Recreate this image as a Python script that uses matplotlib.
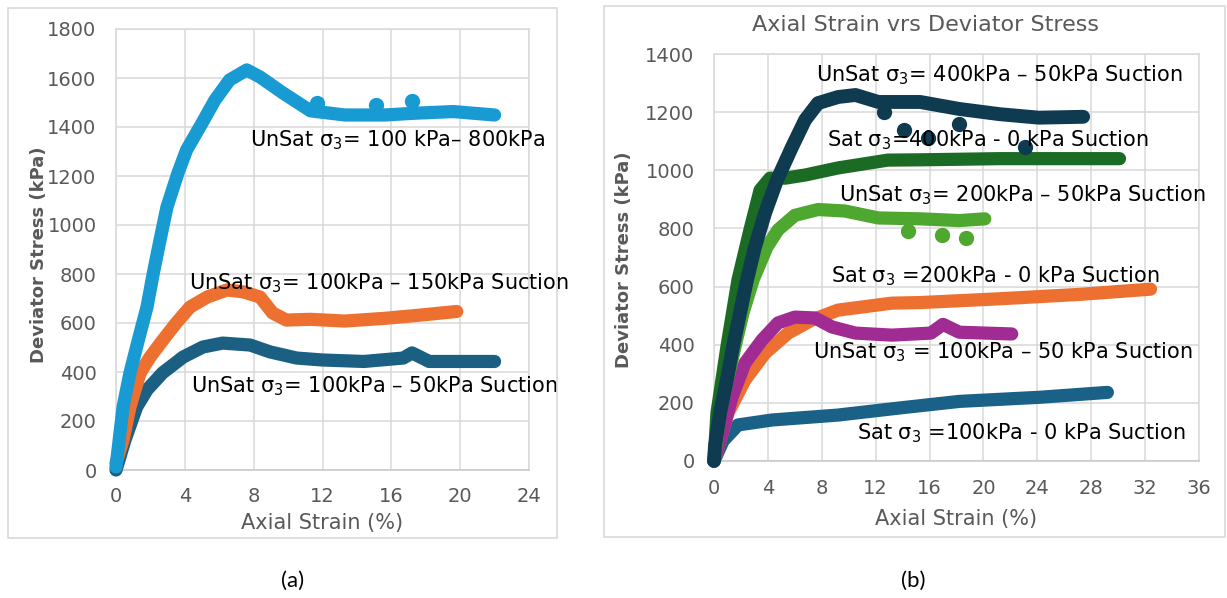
import matplotlib
matplotlib.use("Agg")
import matplotlib.pyplot as plt
from matplotlib.patches import Rectangle

plt.rcParams['font.family'] = ['DejaVu Sans']

# ---- panel (a) data ----
a_blue_x = [0, 0.41, 0.81, 1.3, 1.8, 2.17, 2.56, 2.96, 3.6, 4.1, 5.0, 5.75, 6.6, 7.6, 8.37, 9.7, 11.3, 13.3, 15.6, 17.3, 19.6, 22.0]
a_blue_y = [12, 257, 396, 531, 665, 804, 939, 1073, 1212, 1306, 1416, 1510, 1592, 1633, 1604, 1539, 1466, 1449, 1449, 1456, 1463, 1449]
a_orange_x = [0, 0.41, 0.81, 1.4, 1.98, 2.73, 3.5, 4.3, 5.3, 6.45, 7.4, 8.37, 9.1, 9.9, 11.3, 13.3, 15.6, 17.8, 19.8]
a_orange_y = [30, 122, 257, 396, 461, 531, 600, 665, 706, 735, 727, 706, 641, 612, 615, 608, 619, 633, 647]
a_teal_x = [0, 0.52, 1.2, 1.8, 2.7, 3.9, 5.05, 6.2, 7.8, 8.95, 10.5, 12.0, 14.4, 16.7, 17.2, 18.2, 22.0]
a_teal_y = [0, 122, 257, 327, 396, 461, 502, 518, 510, 482, 457, 449, 443, 457, 478, 443, 443]
a_blue_out_x = [17.2, 15.1, 11.7]
a_blue_out_y = [1505, 1490, 1500]

# ---- panel (b) data ----
b_navy_x = [0, 0.07, 0.45, 0.96, 1.41, 1.93, 2.45, 3.04, 3.79, 4.68, 5.79, 6.76, 7.72, 9.2, 10.5, 12.2, 15.3, 18.2, 21.2, 24.1, 27.4]
b_navy_y = [0, 49, 165, 279, 393, 509, 623, 736, 853, 967, 1080, 1173, 1231, 1252, 1259, 1235, 1235, 1211, 1193, 1181, 1184]
b_navy_out_x = [14.1, 15.9, 23.1, 18.2, 12.6]
b_navy_out_y = [1140, 1110, 1081, 1160, 1200]
b_dgreen_x = [0, 0.22, 0.96, 1.78, 2.67, 3.42, 4.16, 5.3, 6.8, 9.2, 12.9, 15.3, 21.2, 27.1, 30.1]
b_dgreen_y = [0, 165, 393, 623, 795, 932, 973, 973, 984, 1008, 1035, 1036, 1040, 1040, 1040]
b_lgreen_x = [0, 0.45, 1.56, 2.15, 2.9, 3.93, 4.75, 6.0, 7.72, 9.7, 12.2, 15.3, 18.2, 20.1]
b_lgreen_y = [0, 165, 393, 509, 623, 736, 795, 845, 865, 860, 836, 833, 827, 833]
b_lgreen_out_x = [14.4, 16.9, 18.7]
b_lgreen_out_y = [791, 777, 768]
b_orange_x = [0, 1.04, 2.3, 3.79, 5.5, 7.27, 9.2, 13.2, 15.3, 21.2, 27.1, 32.4]
b_orange_y = [0, 165, 279, 371, 440, 485, 519, 543, 545, 558, 573, 591]
b_mag_x = [0, 0.67, 1.34, 2.3, 3.56, 4.75, 6.0, 7.5, 8.76, 10.5, 13.2, 16.1, 17.0, 18.2, 22.1]
b_mag_y = [0, 107, 220, 337, 416, 475, 495, 492, 461, 440, 433, 440, 470, 443, 437]
b_teal_x = [0, 0.67, 1.78, 4.3, 9.2, 13.7, 18.2, 24.1, 29.2]
b_teal_y = [0, 69, 124, 141, 158, 182, 205, 219, 236]

a_xticks = [0, 4, 8, 12, 16, 20, 24]
a_yticks = [0, 200, 400, 600, 800, 1000, 1200, 1400, 1600, 1800]
b_xticks = [0, 4, 8, 12, 16, 20, 24, 28, 32, 36]
b_yticks = [0, 200, 400, 600, 800, 1000, 1200, 1400]

W, H = 1227, 598
GRID = '#d9d9d9'
TICK = '#595959'

fig = plt.figure(figsize=(W / 100, H / 100), dpi=100)


def px_axes(x0, y0, x1, y1):
    # pixel box (top-left origin) -> figure axes
    return fig.add_axes([x0 / W, 1 - y1 / H, (x1 - x0) / W, (y1 - y0) / H])


def frame(x0, y0, x1, y1):
    fig.add_artist(Rectangle((x0 / W, 1 - y1 / H), (x1 - x0) / W, (y1 - y0) / H,
                             transform=fig.transFigure, fill=False, ec=GRID, lw=1.2))


def style(ax, xt, yt, xpad, ypad):
    ax.set_xlim(xt[0], xt[-1])
    ax.set_ylim(yt[0], yt[-1])
    ax.set_xticks(xt)
    ax.set_yticks(yt)
    ax.grid(True, color=GRID, lw=1.1)
    ax.set_axisbelow(True)
    for s in ax.spines.values():
        s.set_color(GRID)
        s.set_linewidth(1.1)
    ax.spines['bottom'].set_color('#c8c8c8')
    ax.tick_params(length=0, labelsize=14, labelcolor=TICK)
    ax.tick_params(axis='x', pad=xpad)
    ax.tick_params(axis='y', pad=ypad)


def band(ax, x, y, c, lw=9.5):
    ax.plot(x, y, color=c, lw=lw, solid_capstyle='round', solid_joinstyle='round',
            clip_on=False, zorder=3)


def dots(ax, x, y, c):
    ax.plot(x, y, 'o', ms=10, color=c, ls='none', clip_on=False, zorder=3)


frame(8, 8, 557, 538)
frame(604, 6, 1225, 537)

# ---- (a) ----
ax1 = px_axes(116, 29, 529, 470)
style(ax1, a_xticks, a_yticks, 12, 14)
band(ax1, a_teal_x, a_teal_y, '#1b5f82')
band(ax1, a_orange_x, a_orange_y, '#ed7030')
band(ax1, a_blue_x, a_blue_y, '#189ad3')
dots(ax1, a_blue_out_x, a_blue_out_y, '#189ad3')

ax1.text(7.8, 1347, 'UnSat σ$_3$= 100 kPa– 800kPa', fontsize=15, va='center', clip_on=False, zorder=4)
ax1.text(4.24, 763, 'UnSat σ$_3$= 100kPa – 150kPa Suction', fontsize=15, va='center', clip_on=False, zorder=4)
ax1.text(4.36, 343, 'UnSat σ$_3$= 100kPa – 50kPa Suction', fontsize=15, va='center', clip_on=False, zorder=4)

ax1.text(0.5, (470 - 523) / 441, 'Axial Strain (%)', transform=ax1.transAxes,
         ha='center', va='center', fontsize=15, color=TICK)
ax1.text((39 - 116) / 413, (470 - 255) / 441, 'Deviator Stress (kPa)', transform=ax1.transAxes,
         ha='center', va='center', rotation=90, fontsize=13, fontweight='bold', color=TICK)

# ---- (b) ----
ax2 = px_axes(714, 54, 1199, 461)
style(ax2, b_xticks, b_yticks, 13, 14)
band(ax2, b_teal_x, b_teal_y, '#1a6188')
band(ax2, b_orange_x, b_orange_y, '#ed7030')
band(ax2, b_mag_x, b_mag_y, '#a02b93')
band(ax2, b_lgreen_x, b_lgreen_y, '#4ea72e')
dots(ax2, b_lgreen_out_x, b_lgreen_out_y, '#4ea72e')
band(ax2, b_dgreen_x, b_dgreen_y, '#1b6b25')
band(ax2, b_navy_x, b_navy_y, '#0f3b50', lw=10)
dots(ax2, b_navy_out_x, b_navy_out_y, '#0f3b50')

notes_b = [
    (7.57, 1328, 'UnSat σ$_3$= 400kPa – 50kPa Suction'),
    (8.39, 1104, 'Sat σ$_3$=400kPa - 0 kPa Suction'),
    (9.28, 915, 'UnSat σ$_3$= 200kPa – 50kPa Suction'),
    (8.69, 636, 'Sat σ$_3$ =200kPa - 0 kPa Suction'),
    (7.35, 375, 'UnSat σ$_3$ = 100kPa – 50 kPa Suction'),
    (10.6, 96, 'Sat σ$_3$ =100kPa - 0 kPa Suction'),
]
for nx, ny, s in notes_b:
    ax2.text(nx, ny, s, fontsize=15, va='center', clip_on=False, zorder=4)

ax2.text(0.5, (461 - 519) / 407, 'Axial Strain (%)', transform=ax2.transAxes,
         ha='center', va='center', fontsize=15, color=TICK)
ax2.text((624 - 714) / 485, (461 - 260) / 407, 'Deviator Stress (kPa)', transform=ax2.transAxes,
         ha='center', va='center', rotation=90, fontsize=13, fontweight='bold', color=TICK)

fig.text(926 / W, 1 - 25 / H, 'Axial Strain vrs Deviator Stress', ha='center', va='center',
         fontsize=16, color=TICK)

fig.text(293 / W, 1 - 581 / H, '(a)', ha='center', va='center', fontsize=16, family=['Lato', 'DejaVu Sans'])
fig.text(913 / W, 1 - 581 / H, '(b)', ha='center', va='center', fontsize=16, family=['Lato', 'DejaVu Sans'])

fig.savefig('out.png', dpi=100)
